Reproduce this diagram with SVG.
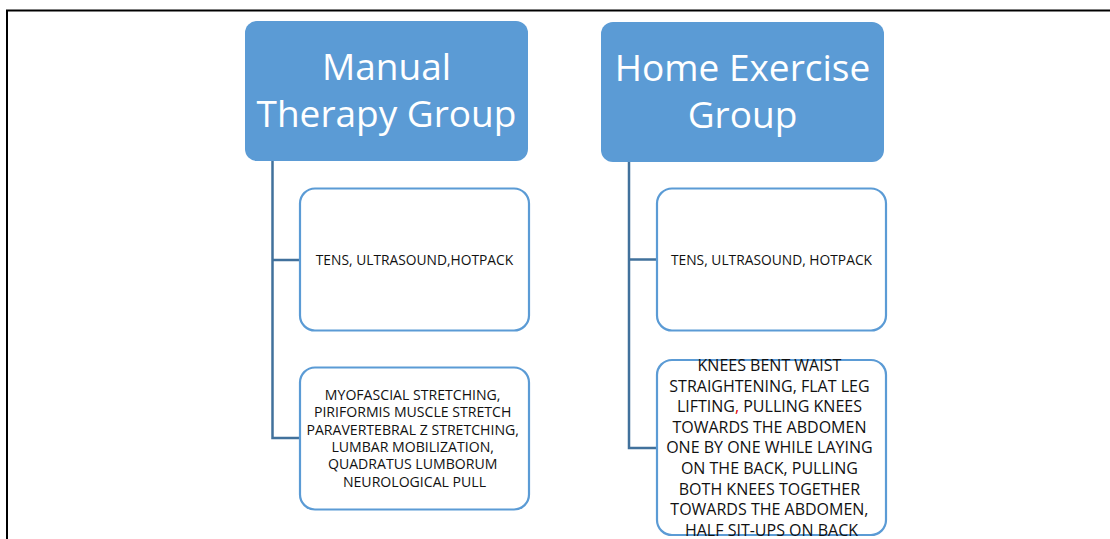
<svg xmlns="http://www.w3.org/2000/svg" width="1110" height="539" viewBox="0 0 1110 539">
<style>
.hdr{fill:#5B9BD5;}
.hdrt{fill:#fff;font-family:"Open Sans","Liberation Sans",sans-serif;font-size:37px;text-anchor:middle;}
.box{fill:#fff;stroke:#5B9BD5;stroke-width:2.2;}
.t{fill:#111;font-family:"Open Sans","Liberation Sans",sans-serif;text-anchor:middle;}
.conn{fill:none;stroke:#41719C;stroke-width:2.5;}
</style>
<rect width="1110" height="539" fill="#fff"/>
<path d="M7 539 V10.5 H1110" fill="none" stroke="#000" stroke-width="2"/>
<g id="connectors">
<path class="conn" d="M272.5 161 V438 H300 M272.5 260 H300"/>
<path class="conn" d="M629 162 V448 H657 M629 259.5 H657"/>
</g>
<g id="manual">
<rect class="hdr" x="245" y="21" width="283" height="140" rx="12"/>
<text class="hdrt" x="386.5" y="80">Manual</text>
<text class="hdrt" x="386.5" y="127">Therapy Group</text>
</g>
<g id="home">
<rect class="hdr" x="601" y="22" width="283" height="140" rx="12"/>
<text class="hdrt" x="742.5" y="81">Home Exercise</text>
<text class="hdrt" x="742.5" y="128">Group</text>
</g>
<g id="m1">
<rect class="box" x="300" y="188.5" width="229" height="142" rx="15"/>
<text class="t" x="414.5" y="265" font-size="13.8">TENS, ULTRASOUND,HOTPACK</text>
</g>
<g id="m2">
<rect class="box" x="300" y="367.5" width="229" height="142" rx="15"/>
<text class="t" font-size="14.1">
<tspan x="414.5" y="400">MYOFASCIAL STRETCHING,</tspan>
<tspan x="414.5" y="417.3">PIRIFORMIS MUSCLE STRETCH</tspan>
<tspan x="414.5" y="434.6">PARAVERTEBRAL Z STRETCHING,</tspan>
<tspan x="414.5" y="451.9">LUMBAR MOBILIZATION,</tspan>
<tspan x="414.5" y="469.2">QUADRATUS LUMBORUM</tspan>
<tspan x="414.5" y="486.5">NEUROLOGICAL PULL</tspan>
</text>
</g>
<g id="h1">
<rect class="box" x="657" y="188.5" width="229" height="142" rx="15"/>
<text class="t" x="771.5" y="265" font-size="13.8">TENS, ULTRASOUND, HOTPACK</text>
</g>
<g id="h2">
<rect class="box" x="657" y="360" width="229" height="175" rx="15"/>
<text class="t" font-size="16">
<tspan x="771.5" y="371">KNEES BENT WAIST</tspan>
<tspan x="771.5" y="391.6">STRAIGHTENING, FLAT LEG</tspan>
<tspan x="771.5" y="412.2">LIFTING<tspan fill="#E00000">,</tspan> PULLING KNEES</tspan>
<tspan x="771.5" y="432.8">TOWARDS THE ABDOMEN</tspan>
<tspan x="771.5" y="453.4">ONE BY ONE WHILE LAYING</tspan>
<tspan x="771.5" y="474">ON THE BACK, PULLING</tspan>
<tspan x="771.5" y="494.6">BOTH KNEES TOGETHER</tspan>
<tspan x="771.5" y="515.2">TOWARDS THE ABDOMEN,</tspan>
<tspan x="771.5" y="535.8">HALF SIT-UPS ON BACK</tspan>
</text>
</g>
</svg>
